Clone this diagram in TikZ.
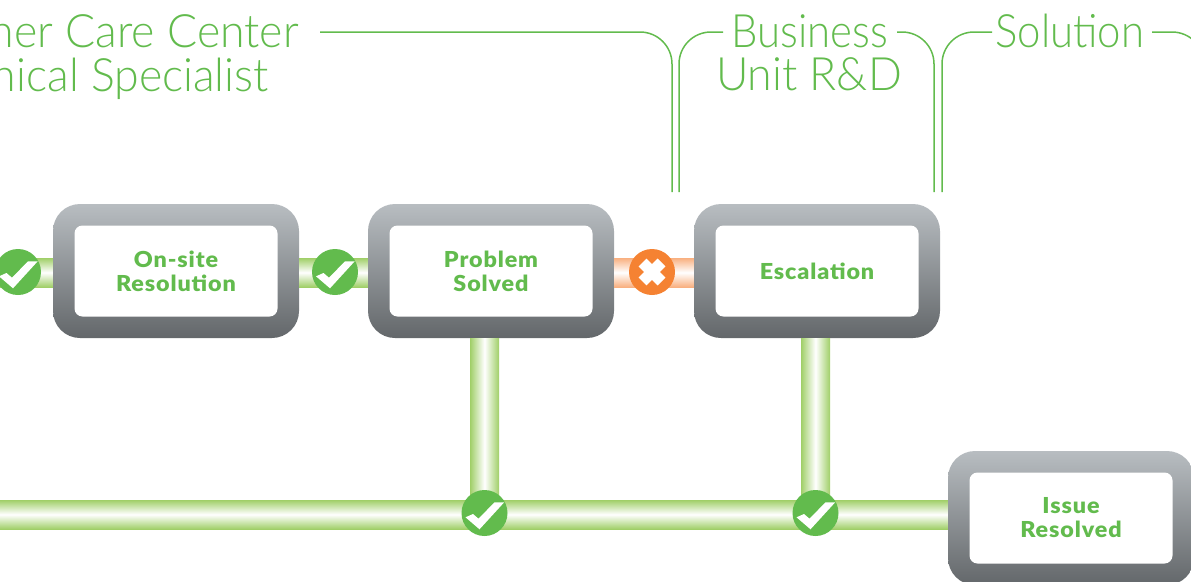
\documentclass[tikz,border=0pt]{standalone}
\usepackage{fontspec}
\newfontfamily\titlefont{Lato Light}[FakeStretch=0.97]
\newfontfamily\tightfont{Lato Light}[FakeStretch=0.91]
\newfontfamily\cardfont{Lato Black}[FakeStretch=1.06,LetterSpace=4]
\usetikzlibrary{calc}
\definecolor{leaf}{HTML}{62BB4D}
\definecolor{barleaf}{HTML}{A0CF68}
\definecolor{rust}{HTML}{F58232}
\definecolor{barrust}{HTML}{F9B080}
\definecolor{steeltop}{HTML}{B8BDC1}
\definecolor{steelend}{HTML}{63676A}
\tikzset{
  frame/.style={minimum width=246, minimum height=134, rounded corners=27, top color=steeltop, bottom color=steelend},
  card/.style={fill=white, minimum width=203, minimum height=91, rounded corners=8, align=center, text=leaf, font=\fontsize{22}{24}\selectfont\cardfont},
  title/.style={text=leaf, inner sep=0, font=\fontsize{46}{46}\selectfont\titlefont},
  tight/.style={title, font=\fontsize{46}{46}\selectfont\tightfont},
  bracket/.style={draw=leaf, line width=1.5, rounded corners=32},
  hbar/.style={top color=barleaf, bottom color=barleaf, middle color=white},
  vbar/.style={hbar, shading angle=90},
  xbar/.style={top color=barrust, bottom color=barrust, middle color=white},
  okdot/.style={circle, fill=leaf, minimum size=46, inner sep=0},
  nodot/.style={circle, fill=rust, minimum size=46, inner sep=0},
  tick/.pic={\fill[white] (-19,4.3) -- (-11.5,1) -- (-6,5.7) -- (10,-10.7) -- (19.7,-10.7) -- (-5,16.3) -- cycle;},
  cross/.pic={\draw[white, line width=11] (-9.5,-9.5) -- (9.5,9.5) (-9.5,9.5) -- (9.5,-9.5);}
}
\begin{document}
\begin{tikzpicture}[x=1pt, y=-1pt]
  \useasboundingbox (0,0) rectangle (1191,581);
  \clip (0,0) rectangle (1191,581);
  % boxes
  \node[frame] (onsite) at (176,271) {};
  \node[card] at (onsite) {On-site\\Resolution};
  \node[frame] (solved) at (491,271) {};
  \node[card] at (solved) {Problem\\Solved};
  \node[frame] (escal) at (817,271) {};
  \node[card] at (escal) {Escalation};
  \node[frame] (issue) at (1071,518) {};
  \node[card] at (issue) {Issue\\Resolved};
  % titles
  \node[title, anchor=base east] (care) at (299,47) {ner Care Center};
  \node[title, anchor=base east] (tech) at (269,91) {nical Specialist};
  \node[tight, anchor=base] (business) at (810,47) {Business};
  \node[title, anchor=base] (unit) at (809,90) {Unit R\&D};
  \node[tight, anchor=base] (solution) at (1070,47) {Solution};
  % brackets
  \coordinate (a1) at (320,32); \coordinate (a2) at (672,192);
  \coordinate (b1) at (723,32); \coordinate (b2) at (679,192);
  \coordinate (c1) at (897,32); \coordinate (c2) at (934,192);
  \coordinate (d1) at (992,32); \coordinate (d2) at (942,192);
  \coordinate (e1) at (1152,32); \coordinate (e2) at (1204,192);
  \draw[bracket] (a1) -| (a2);
  \draw[bracket] (b1) -| (b2);
  \draw[bracket] (c1) -| (c2);
  \draw[bracket] (d1) -| (d2);
  \draw[bracket] (e1) -| (e2);
  % bar ends and dots
  \coordinate (left) at (0,272.5); \coordinate (base) at (0,514.5);
  \coordinate (ok1) at (18,272); \coordinate (ok2) at (335,272); \coordinate (no1) at (652,272);
  \coordinate (ok3) at (484.5,513); \coordinate (ok4) at (815.5,513);
  % bars
  \path[vbar] ($(solved.south)+(-21,0)$) rectangle ($(ok3)+(14.5,0)$);
  \path[vbar] ($(escal.south)+(-16,0)$) rectangle ($(ok4)+(14.5,0)$);
  \path[hbar] ($(left)+(0,-14.5)$) rectangle ($(onsite.west)+(0,16)$);
  \path[hbar] ($(onsite.east)+(0,-13)$) rectangle ($(solved.west)+(0,16)$);
  \path[xbar] ($(solved.east)+(0,-13)$) rectangle ($(escal.west)+(0,16)$);
  \path[hbar] ($(base)+(0,-14.5)$) rectangle ($(issue.west)+(0,11)$);
  % marks
  \node[okdot] at (ok1) {}; \pic at (ok1) {tick};
  \node[okdot] at (ok2) {}; \pic at (ok2) {tick};
  \node[nodot] at (no1) {}; \pic at (no1) {cross};
  \node[okdot] at (ok3) {}; \pic at (ok3) {tick};
  \node[okdot] at (ok4) {}; \pic at (ok4) {tick};
\end{tikzpicture}
\end{document}
